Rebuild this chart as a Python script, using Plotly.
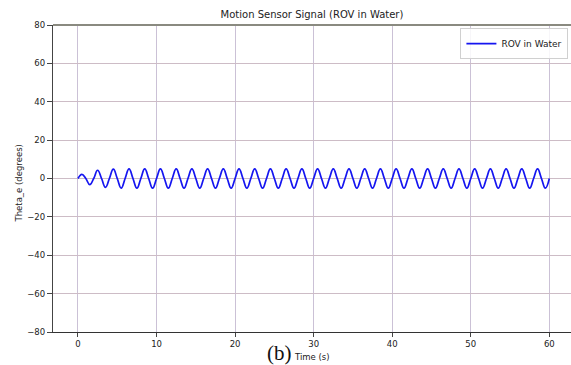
import plotly.graph_objects as go

# Signal samples every 0.5 s
step = 0.5
theta_e = [0, 2.2, 0, -3.2, 0, 4.3, 0, -4.6, 0, 4.9, 0, -5.0,
           0, 5.0, 0, -5.0, 0, 5.0, 0, -5.0, 0, 5.0, 0, -5.0,
           0, 5.0, 0, -5.0, 0, 5.0, 0, -5.0, 0, 5.0, 0, -5.0,
           0, 5.0, 0, -5.0, 0, 5.0, 0, -5.0, 0, 5.0, 0, -5.0,
           0, 5.0, 0, -5.0, 0, 5.0, 0, -5.0, 0, 5.0, 0, -5.0,
           0, 5.0, 0, -5.0, 0, 5.0, 0, -5.0, 0, 5.0, 0, -5.0,
           0, 5.0, 0, -5.0, 0, 5.0, 0, -5.0, 0, 5.0, 0, -5.0,
           0, 5.0, 0, -5.0, 0, 5.0, 0, -5.0, 0, 5.0, 0, -5.0,
           0, 5.0, 0, -5.0, 0, 5.0, 0, -5.0, 0, 5.0, 0, -5.0,
           0, 5.0, 0, -5.0, 0, 5.0, 0, -5.0, 0, 5.0, 0, -5.0, 0]
time_s = [i * step for i in range(len(theta_e))]

x_ticks = [0, 10, 20, 30, 40, 50, 60]
y_ticks = [-80, -60, -40, -20, 0, 20, 40, 60, 80]

W, H = 571, 365
L, T, B = 53, 25, 33
font = "DejaVu Sans, Arial, sans-serif"

fig = go.Figure()
fig.add_trace(go.Scatter(
    x=time_s, y=theta_e, mode="lines", name="ROV in Water",
    line=dict(color="#1515f0", width=1.7, shape="spline", smoothing=1.3),
))

fig.update_layout(
    width=W, height=H,
    margin=dict(l=L, r=0, t=T, b=B, pad=0),
    paper_bgcolor="white", plot_bgcolor="white",
    font=dict(family=font, size=9, color="#222"),
    title=dict(text="Motion Sensor Signal (ROV in Water)", x=0.5, xref="paper",
               y=1 - 14 / H, yref="container", yanchor="middle", xanchor="center",
               font=dict(size=10, color="#222", family=font)),
    showlegend=True,
    legend=dict(x=0.995, y=0.99, xanchor="right", yanchor="top",
                bgcolor="rgba(255,255,255,0.85)", bordercolor="#d0d0d0", borderwidth=1,
                font=dict(size=9, color="#222"), itemwidth=30,
                tracegroupgap=0),
    xaxis=dict(range=[-3.18, 62.76], tickvals=x_ticks, ticks="outside", ticklen=4,
               tickcolor="#444", showgrid=True, gridcolor="#cbc1d6", gridwidth=1,
               zeroline=False, showline=True, linecolor="#333", linewidth=1.2,
               tickfont=dict(size=8.5, color="#222")),
    yaxis=dict(range=[-80, 80], tickvals=y_ticks, ticks="outside", ticklen=5,
               tickcolor="#444", showgrid=True, gridcolor="#cdbcc6", gridwidth=1,
               zeroline=False, showline=True, linecolor="#444", linewidth=1.2,
               tickfont=dict(size=8.5, color="#222")),
    shapes=[dict(type="line", xref="paper", yref="paper", x0=0, x1=1, y0=1, y1=1,
                 line=dict(color="#8a8a80", width=2))],
)

ph = H - T - B
fig.add_annotation(text="Theta_e (degrees)", xref="paper", yref="paper",
                   x=-(L - 18) / (W - L), y=0.5 - 5 / ph, textangle=-90,
                   showarrow=False, xanchor="center", yanchor="middle",
                   font=dict(size=8.5, color="#222", family=font))
fig.add_annotation(text="Time (s)", xref="paper", yref="paper",
                   x=0.5, y=-(357 - (H - B)) / ph, showarrow=False,
                   xanchor="center", yanchor="middle",
                   font=dict(size=8.5, color="#222", family=font))
fig.add_annotation(text="(b)", xref="paper", yref="paper",
                   x=(279 - L) / (W - L), y=-(353 - (H - B)) / ph, showarrow=False,
                   xanchor="center", yanchor="middle",
                   font=dict(size=21, color="#111", family="Liberation Serif, Times New Roman, serif"))

fig.write_html("out.html")
